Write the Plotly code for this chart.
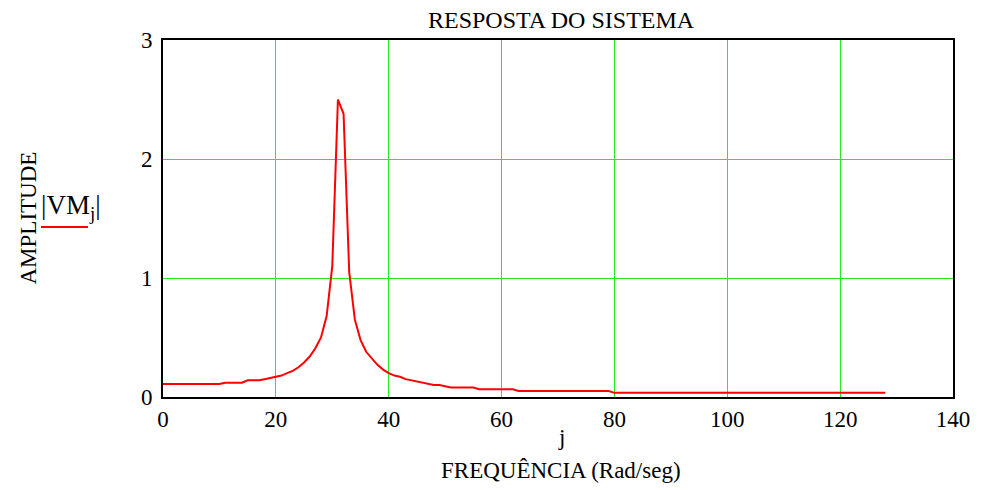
import plotly.graph_objects as go

# Frequency index j and amplitude |VM_j|
j_values = list(range(0, 129))
vm_values = (
    [0.11] * 11 +                      # j 0-10
    [0.12] * 4 +                       # j 11-14
    [0.14, 0.14, 0.14, 0.15, 0.16] +   # j 15-19
    [0.17, 0.18, 0.20, 0.22, 0.25,     # j 20-24
     0.29, 0.34, 0.41, 0.50, 0.68,     # j 25-29
     1.10, 2.50, 2.38, 1.05, 0.65,     # j 30-34
     0.48, 0.38, 0.32, 0.27, 0.23,     # j 35-39
     0.20, 0.18, 0.17, 0.15, 0.14,     # j 40-44
     0.13, 0.12, 0.11, 0.10, 0.10,     # j 45-49
     0.09] +                           # j 50
    [0.08] * 5 +                       # j 51-55
    [0.065] * 7 +                      # j 56-62
    [0.05] * 17 +                      # j 63-79
    [0.035] * 49                       # j 80-128
)

x_ticks = [0, 20, 40, 60, 80, 100, 120, 140]
y_ticks = [0, 1, 2, 3]

title_text = "RESPOSTA DO SISTEMA"
y_title = "AMPLITUDE"
x_title_1 = "j"
x_title_2 = "FREQUÊNCIA (Rad/seg)"
legend_text = "|VM<sub>j</sub>|"

FONT = "Liberation Serif, Times New Roman, serif"
GRID = "#22ee22"
FS = 23

fig = go.Figure()
fig.add_trace(go.Scatter(
    x=j_values, y=vm_values, mode="lines",
    line=dict(color="#ff0000", width=2),
    showlegend=False,
))

fig.update_layout(
    width=982, height=490,
    margin=dict(l=163, r=29, t=40, b=93),
    paper_bgcolor="white", plot_bgcolor="white",
    font=dict(family=FONT, size=FS, color="black"),
    showlegend=False,
)
fig.update_xaxes(
    range=[0, 140], tickvals=x_ticks, ticktext=[str(v) for v in x_ticks],
    showgrid=True, gridcolor=GRID, gridwidth=1,
    showline=True, linecolor="black", linewidth=2, mirror=True,
    zeroline=False, ticks="", ticklabelstandoff=0,
    tickfont=dict(family=FONT, size=FS),
)
fig.update_yaxes(
    range=[0, 3], tickvals=y_ticks, ticktext=[str(v) for v in y_ticks],
    showgrid=True, gridcolor=GRID, gridwidth=1,
    showline=True, linecolor="black", linewidth=2, mirror=True,
    zeroline=False, ticks="", ticklabelstandoff=4,
    tickfont=dict(family=FONT, size=FS),
)

fig.add_annotation(text=title_text, xref="paper", yref="paper", x=0.5, y=1.0,
                   yshift=20, showarrow=False, yanchor="middle", xshift=3,
                   font=dict(family=FONT, size=24))
fig.add_annotation(text=y_title, xref="paper", yref="paper", x=0, y=0.5,
                   xshift=-135, showarrow=False, textangle=-90, xanchor="center",
                   font=dict(family=FONT, size=FS))
fig.add_annotation(text=x_title_1, xref="paper", yref="paper", x=0.5, y=0,
                   yshift=-40, showarrow=False, yanchor="middle", xshift=3,
                   font=dict(family=FONT, size=FS))
fig.add_annotation(text=x_title_2, xref="paper", yref="paper", x=0.5, y=0,
                   yshift=-73, showarrow=False, yanchor="middle", xshift=3,
                   font=dict(family=FONT, size=FS))
fig.add_annotation(text=legend_text, xref="paper", yref="paper", x=0, y=0.5,
                   xshift=-92, yshift=12, showarrow=False, xanchor="center",
                   font=dict(family=FONT, size=27))
fig.add_shape(type="line", xref="paper", yref="paper",
              x0=-122 / 790, x1=-75 / 790, y0=(397 - 227) / 357, y1=(397 - 227) / 357,
              line=dict(color="#ff0000", width=2))

fig.write_html("out.html")
